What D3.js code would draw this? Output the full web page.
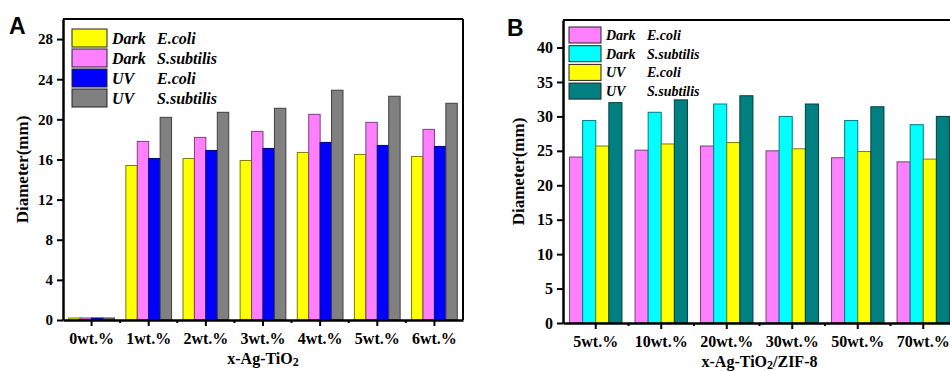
<!DOCTYPE html>
<html>
<head>
<meta charset="utf-8">
<script src="https://cdn.jsdelivr.net/npm/d3@7"></script>
<style>
  body { margin: 0; background: #fff; }
  svg { display: block; }
</style>
</head>
<body>
<div id="chart"></div>
<script>
// panel A data
const groupsA = ["0wt.%", "1wt.%", "2wt.%", "3wt.%", "4wt.%", "5wt.%", "6wt.%"];
const darkEcoliA = [0.2, 15.4, 16.1, 15.9, 16.7, 16.5, 16.3];
const darkSsubA  = [0.2, 17.8, 18.2, 18.8, 20.5, 19.7, 19.0];
const uvEcoliA   = [0.2, 16.1, 16.9, 17.1, 17.7, 17.4, 17.3];
const uvSsubA    = [0.2, 20.2, 20.7, 21.1, 22.9, 22.3, 21.6];
const yTicksA = [0, 4, 8, 12, 16, 20, 24, 28];

// panel B data
const groupsB = ["5wt.%", "10wt.%", "20wt.%", "30wt.%", "50wt.%", "70wt.%"];
const darkEcoliB = [24.1, 25.1, 25.7, 25.0, 24.0, 23.4];
const darkSsubB  = [29.4, 30.6, 31.8, 30.0, 29.4, 28.8];
const uvEcoliB   = [25.7, 26.0, 26.2, 25.3, 24.9, 23.8];
const uvSsubB    = [32.0, 32.4, 33.0, 31.8, 31.4, 30.0];
const yTicksB = [0, 5, 10, 15, 20, 25, 30, 35, 40];

const lightLabels = ["Dark", "Dark", "UV", "UV"];
const strainLabels = ["E.coli", "S.subtilis", "E.coli", "S.subtilis"];

const svg = d3.select("#chart").append("svg")
  .attr("width", 950)
  .attr("height", 371);

const serif = "'Liberation Serif', 'Times New Roman', serif";

function drawPanel(p) {
  const x = d3.scaleBand()
    .domain(p.groups)
    .range([p.left, p.right])
    .paddingInner(0.2)
    .paddingOuter(0.1);
  const step = x.step();

  const keys = d3.range(p.series.length);
  const xs = d3.scaleBand().domain(keys).range([0, x.bandwidth()]);

  const y = d3.scaleLinear().domain(p.yDomain).range([p.bottom, p.top]);

  const g = svg.append("g");

  // bars
  p.series.forEach((vals, si) => {
    g.selectAll(null)
      .data(vals)
      .enter()
      .append("rect")
      .attr("x", (d, i) => x(p.groups[i]) + xs(si))
      .attr("y", d => y(d))
      .attr("width", xs.bandwidth())
      .attr("height", d => y(0) - y(d))
      .attr("fill", p.colors[si])
      .attr("stroke", d3.color(p.colors[si]).darker(2))
      .attr("stroke-width", 1);
  });

  // frame top / right
  g.append("line")
    .attr("x1", p.left).attr("x2", p.right)
    .attr("y1", p.top).attr("y2", p.top)
    .attr("stroke", "#000").attr("stroke-width", 2);
  g.append("line")
    .attr("x1", p.right).attr("x2", p.right)
    .attr("y1", p.top).attr("y2", p.bottom)
    .attr("stroke", "#000").attr("stroke-width", 2);

  // y axis
  const yAxis = g.append("g")
    .attr("transform", `translate(${p.left},0)`)
    .call(d3.axisLeft(y).tickValues(p.yTicks).tickSize(6).tickPadding(4).tickSizeOuter(0));
  yAxis.select(".domain").attr("stroke-width", 2.5);
  yAxis.selectAll(".tick line").attr("stroke-width", 2);
  yAxis.selectAll("text")
    .attr("font-family", serif).attr("font-weight", "bold")
    .attr("font-size", p.yFont).attr("fill", "#000");

  // x axis (major ticks at group centres)
  const xAxis = g.append("g")
    .attr("transform", `translate(0,${p.bottom})`)
    .call(d3.axisBottom(x).tickSize(6).tickPadding(7).tickSizeOuter(0));
  xAxis.select(".domain").attr("stroke-width", 2.5);
  xAxis.selectAll(".tick line").attr("stroke-width", 2);
  xAxis.selectAll("text")
    .attr("font-family", serif).attr("font-weight", "bold")
    .attr("font-size", 16).attr("fill", "#000");

  // minor ticks at group boundaries
  g.selectAll(null)
    .data(p.groups.slice(1))
    .enter()
    .append("line")
    .attr("x1", d => x(d) - (step - x.bandwidth()) / 2)
    .attr("x2", d => x(d) - (step - x.bandwidth()) / 2)
    .attr("y1", p.bottom).attr("y2", p.bottom + 3)
    .attr("stroke", "#000").attr("stroke-width", 2);

  // axis titles
  const xt = g.append("text")
    .attr("x", (p.left + p.right) / 2)
    .attr("y", p.xTitleY)
    .attr("text-anchor", "middle")
    .attr("font-family", serif).attr("font-weight", "bold")
    .attr("font-size", 16);
  xt.append("tspan").text(p.xTitle[0]);
  xt.append("tspan").attr("font-size", 12).attr("dy", 2).text(p.xTitle[1]);
  if (p.xTitle[2]) xt.append("tspan").attr("dy", -2).text(p.xTitle[2]);

  g.append("text")
    .attr("transform", `translate(${p.yTitleX},${(p.top + p.bottom) / 2}) rotate(-90)`)
    .attr("text-anchor", "middle")
    .attr("font-family", serif).attr("font-weight", "bold")
    .attr("font-size", 17)
    .text("Diameter(mm)");

  // panel letter
  g.append("text")
    .attr("x", p.letterX).attr("y", p.letterY)
    .attr("font-family", "'Liberation Sans', Arial, sans-serif")
    .attr("font-weight", "bold").attr("font-size", 23)
    .text(p.letter);

  // legend
  const lg = g.append("g").attr("transform", `translate(${p.legend.x},${p.legend.y})`);
  keys.forEach(i => {
    const row = lg.append("g").attr("transform", `translate(0,${i * p.legend.gap})`);
    row.append("rect")
      .attr("width", p.legend.w).attr("height", p.legend.h)
      .attr("fill", p.colors[i])
      .attr("stroke", "#222").attr("stroke-width", 1);
    row.append("text")
      .attr("x", p.legend.w + 5).attr("y", p.legend.h - 3)
      .attr("font-family", serif).attr("font-weight", "bold").attr("font-style", "italic")
      .attr("font-size", p.legend.font)
      .text(lightLabels[i]);
    row.append("text")
      .attr("x", p.legend.w + p.legend.col).attr("y", p.legend.h - 3)
      .attr("font-family", serif).attr("font-weight", "bold").attr("font-style", "italic")
      .attr("font-size", p.legend.font)
      .text(strainLabels[i]);
  });
}

drawPanel({
  groups: groupsA,
  series: [darkEcoliA, darkSsubA, uvEcoliA, uvSsubA],
  colors: ["#ffff00", "#ff80ff", "#0000ff", "#808080"],
  left: 63, right: 463, top: 19, bottom: 320,
  yDomain: [0, 30], yTicks: yTicksA, yFont: 15,
  xTitle: ["x-Ag-TiO", "2"], xTitleY: 364, yTitleX: 28,
  letter: "A", letterX: 9, letterY: 34,
  legend: { x: 72, y: 29, w: 35, h: 18, gap: 20, col: 50, font: 16 }
});

drawPanel({
  groups: groupsB,
  series: [darkEcoliB, darkSsubB, uvEcoliB, uvSsubB],
  colors: ["#ff80ff", "#00ffff", "#ffff00", "#008080"],
  left: 563, right: 956, top: 20, bottom: 323,
  yDomain: [0, 44], yTicks: yTicksB, yFont: 16,
  xTitle: ["x-Ag-TiO", "2", "/ZIF-8"], xTitleY: 367, yTitleX: 524,
  letter: "B", letterX: 507, letterY: 36,
  legend: { x: 569, y: 27, w: 32, h: 16, gap: 18.7, col: 46, font: 14 }
});
</script>
</body>
</html>
